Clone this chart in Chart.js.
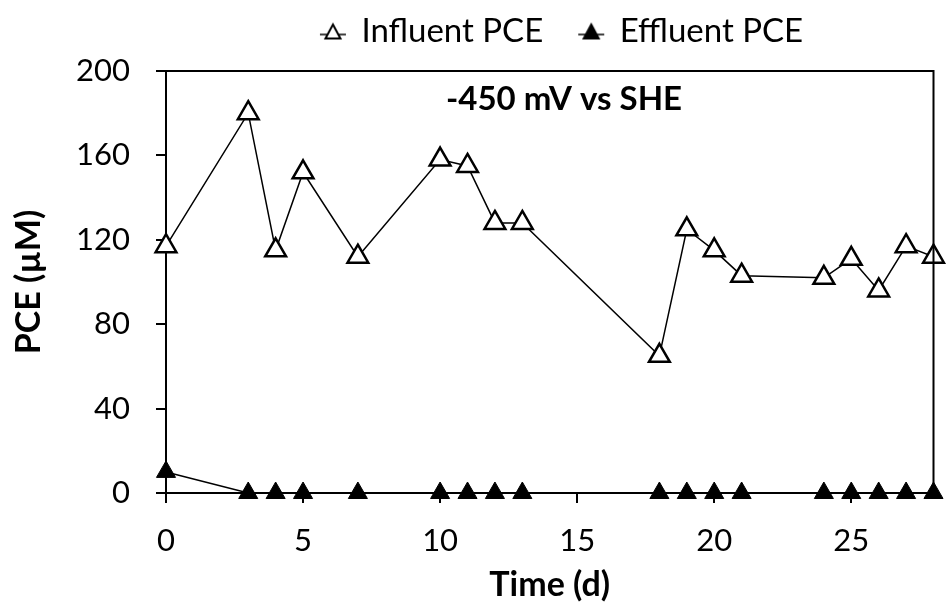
<!DOCTYPE html>
<html>
<head>
<meta charset="utf-8">
<script src="https://cdn.jsdelivr.net/npm/chart.js@4"></script>
<style>
  body { margin: 0; background: #fff; }
  #wrap { width: 948px; height: 602px; }
</style>
</head>
<body>
<div id="wrap"><canvas id="pce"></canvas></div>
<script>
// days sampled
const days = [0, 3, 4, 5, 7, 10, 11, 12, 13, 18, 19, 20, 21, 24, 25, 26, 27, 28];
const influent = [117, 180, 115, 152, 112, 158, 155, 128, 128, 65, 125, 115, 103, 102, 111, 96, 117, 112];
const effluent = [10, 0, 0, 0, 0, 0, 0, 0, 0, 0, 0, 0, 0, 0, 0, 0, 0, 0];
const yTicks = [0, 40, 80, 120, 160, 200];
const xTicks = [0, 5, 10, 15, 20, 25];
const panelLabel = "-450 mV vs SHE";

const FONT = "Lato, 'Open Sans', sans-serif";
Chart.defaults.font.family = FONT;
Chart.defaults.color = "#000";

function pts(ys) {
  return days.map((d, i) => ({ x: d, y: ys[i] }));
}

// little line + triangle used as legend symbol
function legendMark(filled) {
  const c = document.createElement("canvas");
  c.width = 28;
  c.height = 22;
  const g = c.getContext("2d");
  g.strokeStyle = "#000";
  g.lineWidth = 1.5;
  g.beginPath();
  g.moveTo(1, 14);
  g.lineTo(27, 14);
  g.stroke();
  g.beginPath();
  g.moveTo(14, 4);
  g.lineTo(21.5, 18);
  g.lineTo(6.5, 18);
  g.closePath();
  g.fillStyle = filled ? "#000" : "#fff";
  g.fill();
  g.lineWidth = 2;
  g.stroke();
  return c;
}
const marks = [legendMark(false), legendMark(true)];

// frame around plot + label inside
const framePlugin = {
  id: "frame",
  beforeInit(chart) {
    const fit = chart.legend.fit;
    chart.legend.fit = function () {
      fit.bind(chart.legend)();
      this.height = 71;
    };
  },
  afterLayout(chart) {
    chart.legend.left += 92;
    chart.legend.right += 92;
    chart.legend.top -= 21;
    chart.legend.bottom -= 21;
  },
  afterDatasetsDraw(chart) {
    const { ctx, chartArea: a } = chart;
    ctx.save();
    ctx.strokeStyle = "#000";
    ctx.lineWidth = 2;
    ctx.beginPath();
    ctx.moveTo(a.left, a.top);
    ctx.lineTo(a.right, a.top);
    ctx.lineTo(a.right, a.bottom);
    ctx.stroke();
    ctx.font = "bold 33px " + FONT;
    ctx.fillStyle = "#000";
    ctx.textAlign = "center";
    ctx.textBaseline = "middle";
    ctx.fillText(panelLabel, 564, 99);
    ctx.restore();
  }
};

const data = {
  datasets: [
    {
      label: "Influent PCE",
      data: pts(influent),
      borderColor: "#000",
      borderWidth: 1.5,
      pointStyle: "triangle",
      pointRadius: 12,
      pointBorderWidth: 2.5,
      pointBackgroundColor: "#fff",
      pointBorderColor: "#000",
      backgroundColor: "#fff",
      clip: false
    },
    {
      label: "Effluent PCE",
      data: pts(effluent),
      borderColor: "#000",
      borderWidth: 1.5,
      pointStyle: "triangle",
      pointRadius: 11,
      pointBorderWidth: 1,
      pointBackgroundColor: "#000",
      pointBorderColor: "#000",
      backgroundColor: "#000",
      clip: false
    }
  ]
};

const config = {
  type: "line",
  data: data,
  options: {
    responsive: true,
    maintainAspectRatio: false,
    animation: false,
    layout: { padding: { left: 0, right: 8, top: 0, bottom: 0 } },
    plugins: {
      legend: {
        position: "top",
        labels: {
          usePointStyle: true,
          pointStyleWidth: 24,
          padding: 36,
          font: { size: 33 },
          color: "#000",
          generateLabels(chart) {
            const items = Chart.defaults.plugins.legend.labels.generateLabels(chart);
            items.forEach((it, i) => { it.pointStyle = marks[i]; });
            return items;
          }
        }
      },
      tooltip: { enabled: false }
    },
    scales: {
      x: {
        type: "linear",
        min: 0,
        max: 28,
        afterBuildTicks: (s) => { s.ticks = xTicks.map(v => ({ value: v })); },
        afterFit: (s) => { s.height = 109; },
        grid: { drawOnChartArea: false, drawTicks: true, tickLength: 10, color: "#000", lineWidth: 2 },
        border: { color: "#000", width: 2 },
        ticks: { font: { size: 31 }, color: "#000", padding: 19, maxRotation: 0 },
        title: { display: true, text: "Time (d)", font: { size: 34, weight: "bold", lineHeight: 1 }, color: "#000", padding: { top: 0, bottom: 0 } }
      },
      y: {
        min: 0,
        max: 200,
        afterBuildTicks: (s) => { s.ticks = yTicks.map(v => ({ value: v })); },
        afterFit: (s) => { s.width = 166; },
        grid: { drawOnChartArea: false, drawTicks: true, tickLength: 10, color: "#000", lineWidth: 2 },
        border: { color: "#000", width: 2 },
        ticks: { font: { size: 31 }, color: "#000", padding: 26 },
        title: { display: true, text: "PCE (µM)", font: { size: 34, weight: "bold" }, color: "#000", padding: { top: 9, bottom: 0 } }
      }
    }
  },
  plugins: [framePlugin]
};

const ctx = document.getElementById("pce").getContext("2d");
let chart = new Chart(ctx, config);
</script>
</body>
</html>
